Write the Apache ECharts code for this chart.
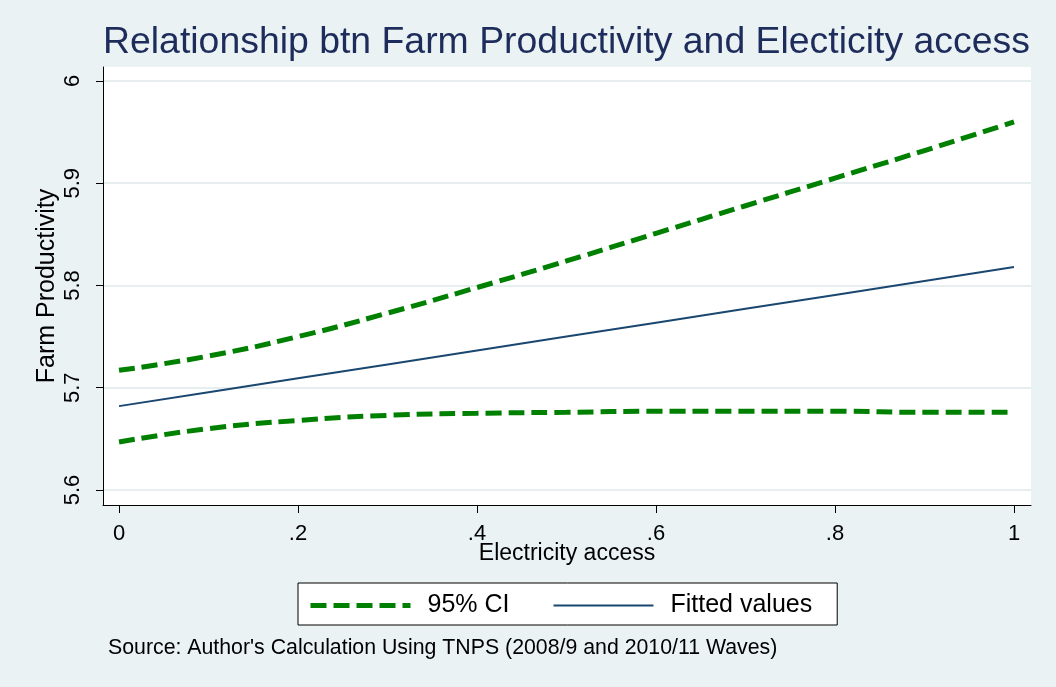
<!DOCTYPE html>
<html>
<head>
<meta charset="utf-8">
<script src="https://cdn.jsdelivr.net/npm/echarts@6/dist/echarts.min.js"></script>
<style>
  html, body { margin: 0; padding: 0; background: #eaf2f3; }
  #chart { width: 1056px; height: 687px; }
</style>
</head>
<body>
<div id="chart"></div>
<script>
// Electricity access (x) and the linear fit of farm productivity with its 95% confidence band
const access = [0, 0.1, 0.2, 0.3, 0.4, 0.5, 0.6, 0.7, 0.8, 0.9, 1.0];
const fitted = [5.682, 5.6956, 5.7092, 5.7228, 5.7364, 5.750, 5.7636, 5.7772, 5.7908, 5.8044, 5.818];
const ciUpper = [5.717, 5.731, 5.750, 5.773, 5.798, 5.824, 5.851, 5.878, 5.905, 5.932, 5.960];
const ciLower = [5.647, 5.660, 5.668, 5.673, 5.675, 5.676, 5.677, 5.677, 5.677, 5.676, 5.676];

const xTicks = [0, 0.2, 0.4, 0.6, 0.8, 1];
const xTickLabels = ['0', '.2', '.4', '.6', '.8', '1'];
const yTicks = [5.6, 5.7, 5.8, 5.9, 6.0];
const yTickLabels = ['5.6', '5.7', '5.8', '5.9', '6'];

const pairs = ys => access.map((x, i) => [x, ys[i]]);
const labelFor = (ticks, labels) => v => labels[ticks.findIndex(t => Math.abs(t - v) < 1e-6)];

const FONT = 'Liberation Sans, Arial, sans-serif';
const CI_COLOR = '#008000';
const FIT_COLOR = '#1a476f';
const ciStyle = { color: CI_COLOR, width: 5, type: [16, 7] };

const chart = echarts.init(document.getElementById('chart'));
chart.setOption({
  backgroundColor: '#eaf2f3',
  animation: false,
  title: [
    {
      text: 'Relationship btn Farm Productivity and Electicity access',
      left: 98, top: 19,
      textStyle: { fontFamily: FONT, fontSize: 37.4, fontWeight: 'normal', color: '#1e2c5c' }
    },
    {
      text: "Source: Author's Calculation Using TNPS (2008/9 and 2010/11 Waves)",
      left: 103, top: 633,
      textStyle: { fontFamily: FONT, fontSize: 21.3, fontWeight: 'normal', color: '#000' }
    }
  ],
  legend: {
    left: 298, top: 583,
    padding: [10, 25, 7, 10],
    itemGap: 43,
    itemWidth: 100,
    itemHeight: 14,
    backgroundColor: '#fff',
    borderColor: '#000',
    borderWidth: 1,
    borderRadius: 0,
    itemStyle: { opacity: 0 },
    textStyle: { fontFamily: FONT, fontSize: 25, color: '#000', padding: [0, 0, 0, 12] },
    data: [
      { name: '95% CI', lineStyle: { width: 5, type: [16, 7] } },
      { name: 'Fitted values', lineStyle: { width: 2 } }
    ]
  },
  grid: {
    left: 103, right: 25, top: 67, bottom: 182,
    show: true, backgroundColor: '#fff', borderWidth: 0
  },
  xAxis: {
    type: 'value',
    min: -0.0179, max: 1.019,
    name: 'Electricity access',
    nameLocation: 'middle',
    nameGap: 37,
    nameMoveOverlap: false,
    nameTextStyle: { fontFamily: FONT, fontSize: 23, color: '#000' },
    axisLine: { show: true, onZero: false, lineStyle: { color: '#000', width: 1 } },
    axisTick: { show: true, length: 8, lineStyle: { color: '#000' }, customValues: xTicks },
    axisLabel: {
      fontFamily: FONT, fontSize: 22, color: '#000', margin: 18,
      customValues: xTicks,
      formatter: labelFor(xTicks, xTickLabels)
    },
    splitLine: { show: false }
  },
  yAxis: {
    type: 'value',
    min: 5.5853, max: 6.0137,
    name: 'Farm Productivity',
    nameLocation: 'middle',
    nameGap: 43,
    nameMoveOverlap: false,
    nameTextStyle: { fontFamily: FONT, fontSize: 25, color: '#000' },
    axisLine: { show: true, onZero: false, lineStyle: { color: '#000', width: 1 } },
    axisTick: { show: true, length: 7, lineStyle: { color: '#000' }, customValues: yTicks },
    axisLabel: {
      fontFamily: FONT, fontSize: 22, color: '#000', margin: 19, rotate: 90,
      customValues: yTicks,
      formatter: labelFor(yTicks, yTickLabels)
    },
    splitLine: { show: true, lineStyle: { color: '#e6eef0', width: 2 } }
  },
  series: [
    {
      name: '95% CI', type: 'line', data: pairs(ciUpper),
      smooth: true, symbol: 'none', lineStyle: ciStyle, itemStyle: { color: CI_COLOR }
    },
    {
      name: '95% CI', type: 'line', data: pairs(ciLower),
      smooth: true, symbol: 'none', lineStyle: ciStyle, itemStyle: { color: CI_COLOR }
    },
    {
      name: 'Fitted values', type: 'line', data: pairs(fitted),
      symbol: 'none', lineStyle: { color: FIT_COLOR, width: 2 }, itemStyle: { color: FIT_COLOR }
    }
  ]
});
</script>
</body>
</html>
